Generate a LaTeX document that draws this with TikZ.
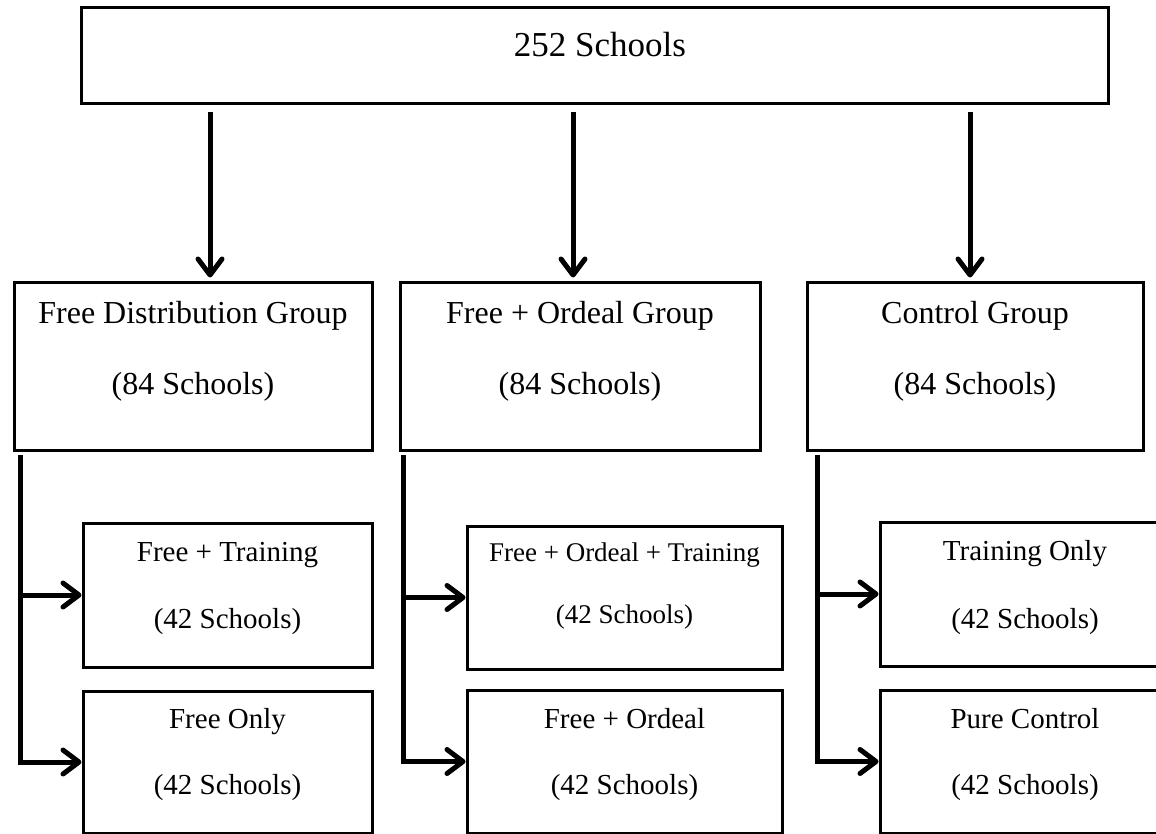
\documentclass[tikz,border=0pt]{standalone}
\usepackage{fontspec}
\setmainfont{Liberation Serif}
\usetikzlibrary{arrows.meta}
\begin{document}
\begin{tikzpicture}[x=1pt,y=-1pt,
  box/.style={draw, line width=3pt, rectangle, inner sep=0pt},
  arr/.style={line width=5pt, -{Straight Barb[length=16pt,width=24pt,round]}},
  bigtxt/.style={font=\fontsize{35}{42}\selectfont, anchor=base, inner sep=0pt},
  midtxt/.style={font=\fontsize{32}{38}\selectfont, anchor=base, inner sep=0pt},
  smltxt/.style={font=\fontsize{29}{35}\selectfont, anchor=base, inner sep=0pt},
  tinytxt/.style={font=\fontsize{27}{32}\selectfont, anchor=base, inner sep=0pt}]
\useasboundingbox (0,0) rectangle (1156,834);
\fill[white] (0,0) rectangle (1156,834);

% boxes
\node[box, minimum width=1027pt, minimum height=96pt] (top) at (594.5,56) {};
\node[box, minimum width=358pt, minimum height=167pt] (g1) at (193,366.5) {};
\node[box, minimum width=360pt, minimum height=167pt] (g2) at (580,366.5) {};
\node[box, minimum width=336pt, minimum height=167pt] (g3) at (975,366.5) {};
\node[box, minimum width=289pt, minimum height=144pt] (s1a) at (227.5,595) {};
\node[box, minimum width=289pt, minimum height=142pt] (s1b) at (227.5,762) {};
\node[box, minimum width=315pt, minimum height=143pt] (s2a) at (624.5,597.5) {};
\node[box, minimum width=315pt, minimum height=143pt] (s2b) at (624.5,761.5) {};
\node[box, minimum width=290pt, minimum height=144pt] (s3a) at (1025,594) {};
\node[box, minimum width=290pt, minimum height=143pt] (s3b) at (1025,761.5) {};

% texts
\node[bigtxt] (t0) at (600,57) {252 Schools};
\node[midtxt] (t1a) at (193,323) {Free Distribution Group};
\node[midtxt] (t1b) at (193,394) {(84 Schools)};
\node[midtxt] (t2a) at (580,323) {Free + Ordeal Group};
\node[midtxt] (t2b) at (580,394) {(84 Schools)};
\node[midtxt] (t3a) at (975,323) {Control Group};
\node[midtxt] (t3b) at (975,394) {(84 Schools)};

\node[smltxt] (u1a) at (227.5,561) {Free + Training};
\node[smltxt] (u1b) at (227.5,628) {(42 Schools)};
\node[smltxt] (u1c) at (227.5,728) {Free Only};
\node[smltxt] (u1d) at (227.5,794) {(42 Schools)};

\node[tinytxt] (u2a) at (624.5,561) {Free + Ordeal + Training};
\node[tinytxt] (u2b) at (624.5,623) {(42 Schools)};
\node[smltxt] (u2c) at (624.5,728) {Free + Ordeal};
\node[smltxt] (u2d) at (624.5,794) {(42 Schools)};

\node[smltxt] (u3a) at (1025,560) {Training Only};
\node[smltxt] (u3b) at (1025,628) {(42 Schools)};
\node[smltxt] (u3c) at (1025,728) {Pure Control};
\node[smltxt] (u3d) at (1025,794) {(42 Schools)};

% top arrows
\coordinate (a1) at (210,112);
\coordinate (a2) at (573,112);
\coordinate (a3) at (970,112);
\draw[arr, shorten >=4pt] (a1) -- (a1 |- g1.north);
\draw[arr, shorten >=4pt] (a2) -- (a2 |- g2.north);
\draw[arr, shorten >=4pt] (a3) -- (a3 |- g3.north);

% branch connectors
\coordinate (v1) at (20,455);
\coordinate (v2) at (403,455);
\coordinate (v3) at (817,455);
\draw[arr] (v1) |- (s1b.west);
\draw[arr] (v1 |- s1a.west) -- (s1a.west);
\draw[arr] (v2) |- (s2b.west);
\draw[arr] (v2 |- s2a.west) -- (s2a.west);
\draw[arr] (v3) |- (s3b.west);
\draw[arr] (v3 |- s3a.west) -- (s3a.west);
\end{tikzpicture}
\end{document}
